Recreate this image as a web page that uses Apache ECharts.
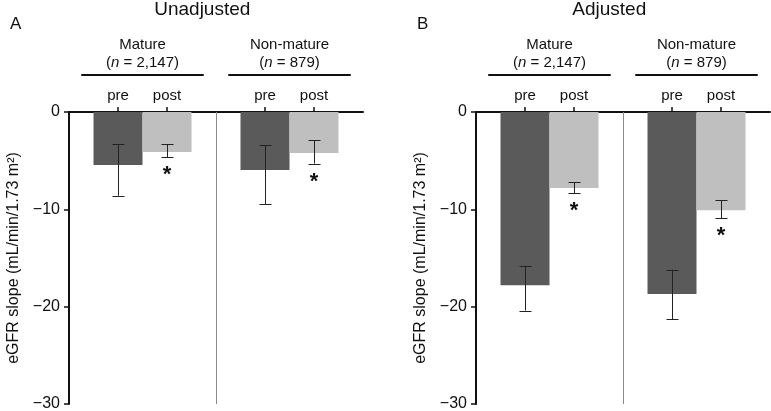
<!DOCTYPE html>
<html><head><meta charset="utf-8">
<script src="https://cdn.jsdelivr.net/npm/echarts@6/dist/echarts.min.js"></script>
<style>html,body{margin:0;padding:0;background:#fff}#c{width:771px;height:411px}</style>
</head><body><div id="c"></div>
<script>
// ---- data ----
const panelTitles = ['Unadjusted', 'Adjusted'];
const panelLetters = ['A', 'B'];
const groupNames = ['Mature', 'Non-mature'];
const groupN = ['2,147', '879'];
const xSlots = ['', 'pre', 'post', '', 'pre', 'post', ''];
const yTickLabels = ['0', '\u221210', '\u221220', '\u221230'];
const yAxisTitle = 'eGFR slope (mL/min/1.73 m\u00b2)';

// Unadjusted (panel A): [Mature, Non-mature]
const unadjPreMean  = [-5.45, -5.95];
const unadjPreLow   = [-8.6, -9.5];
const unadjPreHigh  = [-3.3, -3.4];
const unadjPostMean = [-4.1, -4.2];
const unadjPostLow  = [-4.65, -5.3];
const unadjPostHigh = [-3.3, -2.9];

// Adjusted (panel B): [Mature, Non-mature]
const adjPreMean  = [-17.8, -18.7];
const adjPreLow   = [-20.4, -21.3];
const adjPreHigh  = [-15.8, -16.2];
const adjPostMean = [-7.8, -10.1];
const adjPostLow  = [-8.35, -10.9];
const adjPostHigh = [-7.2, -9.05];

const postSignificant = [true, true];

// ---- build ----
const FONT = '"Liberation Sans", Arial, Helvetica, sans-serif';
const INK = '#111';
const PRE_COLOR = '#5a5a5a';
const POST_COLOR = '#bfbfbf';

const panels = [
  {pre:[unadjPreMean, unadjPreLow, unadjPreHigh], post:[unadjPostMean, unadjPostLow, unadjPostHigh]},
  {pre:[adjPreMean, adjPreLow, adjPreHigh], post:[adjPostMean, adjPostLow, adjPostHigh]}
];

const gridLefts = [69, 476];
const GRID_W = 294, GRID_TOP = 112, GRID_H = 292;

const grids = [], xAxes = [], yAxes = [], series = [], graphics = [];

function slotOf(g, which) { return 1 + 3 * g + (which === 'post' ? 1 : 0); }

panels.forEach((p, i) => {
  grids.push({left: gridLefts[i], top: GRID_TOP, width: GRID_W, height: GRID_H, containLabel: false, outerBoundsMode: 'none'});
  xAxes.push({
    gridIndex: i, type: 'category', data: xSlots, position: 'top', boundaryGap: false,
    axisLine: {show: true, onZero: false, lineStyle: {color: INK, width: 2}},
    axisTick: {show: true, length: 5, interval: (idx) => xSlots[idx] !== '', lineStyle: {color: INK, width: 1.5}},
    axisLabel: {show: true, interval: 0, fontSize: 15, fontFamily: FONT, color: INK, margin: 9},
    splitLine: {show: false}
  });
  yAxes.push({
    gridIndex: i, type: 'value', min: -30, max: 0, interval: 10,
    axisLine: {show: true, lineStyle: {color: INK, width: 2}},
    axisTick: {show: true, length: 5, lineStyle: {color: INK, width: 1.5}},
    axisLabel: {fontSize: 16, fontFamily: FONT, color: INK, margin: 9,
      formatter: (v) => yTickLabels[Math.round(-v / 10)]},
    splitLine: {show: false},
    name: yAxisTitle, nameLocation: 'middle', nameGap: 47,
    nameTextStyle: {fontSize: 16, fontFamily: FONT, color: INK}
  });

  const preData = xSlots.map(() => '-');
  const postData = xSlots.map(() => '-');
  const errData = [];
  const starData = [];
  groupNames.forEach((gname, g) => {
    preData[slotOf(g, 'pre')] = p.pre[0][g];
    postData[slotOf(g, 'post')] = p.post[0][g];
    errData.push([slotOf(g, 'pre'), p.pre[1][g], p.pre[2][g]]);
    errData.push([slotOf(g, 'post'), p.post[1][g], p.post[2][g]]);
    if (postSignificant[g]) starData.push([slotOf(g, 'post'), p.post[1][g]]);
  });

  series.push({
    type: 'bar', xAxisIndex: i, yAxisIndex: i, data: preData,
    barCategoryGap: '0%', barGap: '-100%',
    itemStyle: {color: PRE_COLOR}, silent: true,
    markLine: {silent: true, symbol: 'none', label: {show: false},
      lineStyle: {color: '#8a8a8a', width: 1, type: 'solid'},
      data: [{xAxis: 3}]}
  });
  series.push({
    type: 'bar', xAxisIndex: i, yAxisIndex: i, data: postData,
    barCategoryGap: '0%', barGap: '-100%',
    itemStyle: {color: POST_COLOR}, silent: true
  });
  series.push({
    type: 'custom', xAxisIndex: i, yAxisIndex: i, data: errData, silent: true, z: 10,
    renderItem: (params, api) => {
      const x = api.value(0), lo = api.value(1), hi = api.value(2);
      const a = api.coord([x, lo]), b = api.coord([x, hi]);
      const cx = Math.round(a[0]) + 0.5, w = 6;
      const st = {stroke: '#222', lineWidth: 1};
      return {type: 'group', children: [
        {type: 'line', shape: {x1: cx, y1: a[1], x2: cx, y2: b[1]}, style: st},
        {type: 'line', shape: {x1: cx - w, y1: Math.round(a[1]) + 0.5, x2: cx + w, y2: Math.round(a[1]) + 0.5}, style: st},
        {type: 'line', shape: {x1: cx - w, y1: Math.round(b[1]) + 0.5, x2: cx + w, y2: Math.round(b[1]) + 0.5}, style: st}
      ]};
    }
  });
  series.push({
    type: 'custom', xAxisIndex: i, yAxisIndex: i, data: starData, silent: true, z: 10,
    renderItem: (params, api) => {
      const a = api.coord([api.value(0), api.value(1)]);
      return {type: 'text', x: a[0], y: a[1] + 18,
        style: {text: '*', fontSize: 22, fontWeight: 'bold', fontFamily: FONT, fill: INK, align: 'center', verticalAlign: 'middle'}};
    }
  });

  // headers
  const gl = gridLefts[i];
  const band = GRID_W / 6;
  graphics.push({type: 'text', x: gl + band * 2.72, y: 10,
    style: {text: panelTitles[i], fontSize: 19, fontFamily: FONT, fill: INK, align: 'center', verticalAlign: 'middle'}});
  graphics.push({type: 'text', x: gl - 59, y: 24,
    style: {text: panelLetters[i], fontSize: 17, fontFamily: FONT, fill: INK, align: 'left', verticalAlign: 'middle'}});
  groupNames.forEach((gname, g) => {
    const cx = gl + band * (1.5 + 3 * g);
    graphics.push({type: 'text', x: cx, y: 45,
      style: {text: gname, fontSize: 15, fontFamily: FONT, fill: INK, align: 'center', verticalAlign: 'middle'}});
    graphics.push({type: 'text', x: cx, y: 63,
      style: {text: '({i|n} = ' + groupN[g] + ')', fontSize: 15, fontFamily: FONT, fill: INK, align: 'center', verticalAlign: 'middle',
        rich: {i: {fontStyle: 'italic', fontSize: 15, fontFamily: FONT, fill: INK}}}});
    graphics.push({type: 'line', shape: {x1: cx - band * 1.25, y1: 75, x2: cx + band * 1.25, y2: 75},
      style: {stroke: INK, lineWidth: 2}});
  });
});

const chart = echarts.init(document.getElementById('c'), null, {renderer: 'canvas'});
chart.setOption({
  animation: false,
  backgroundColor: '#fff',
  textStyle: {fontFamily: FONT},
  grid: grids, xAxis: xAxes, yAxis: yAxes, series: series,
  graphic: graphics
});
</script></body></html>
